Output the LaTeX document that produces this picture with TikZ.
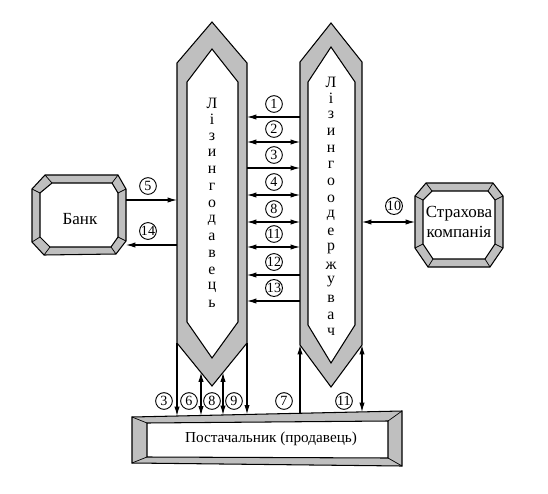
\documentclass[tikz,border=0pt]{standalone}
\usepackage{fontspec}
\setmainfont{Liberation Serif}
\usetikzlibrary{arrows.meta}

\tikzset{
  frame/.style={draw=black, fill=gray!50, even odd rule, line width=0.9pt},
  bevel/.style={black, line width=0.6pt},
  con/.style={line width=0.9pt},
  lar/.style={con, {Latex[length=8pt,width=4.5pt]}-},
  rar/.style={con, -{Latex[length=8pt,width=4.5pt]}},
  bar/.style={con, {Latex[length=8pt,width=4.5pt]}-{Latex[length=8pt,width=4.5pt]}},
  num/.style={circle, draw, fill=white, line width=0.8pt, inner sep=0pt,
    minimum size=0.5cm, font=\fontsize{12}{12}\selectfont},
  lett/.style={inner sep=0pt, font=\fontsize{13.5}{14}\selectfont},
  txt/.style={align=center, font=\fontsize{14.5}{17}\selectfont},
}

\begin{document}
\begin{tikzpicture}[x=0.03cm, y=-0.03cm]
  \useasboundingbox (0,0) rectangle (548,494);

  %% left column (lessor)
  \path[frame] (212,22) -- (247,63) -- (247,343) -- (212,386) -- (177,343) -- (177,63) -- cycle
               (212,49) -- (238,82) -- (238,322) -- (212,358) -- (187,322) -- (187,82) -- cycle;
  \foreach \l [count=\i] in {Л,і,з,и,н,г,о,д,а,в,е,ц,ь}
    \node[lett] (ld\i) at (212,{103+(\i-1)*16.75}) {\l};

  %% right column (lessee)
  \path[frame] (331,23) -- (362,62) -- (362,345) -- (331,387) -- (300,345) -- (300,62) -- cycle
               (331,47) -- (355,82) -- (355,325) -- (331,363) -- (308,325) -- (308,82) -- cycle;
  \foreach \l [count=\i] in {Л,і,з,и,н,г,о,о,д,е,р,ж,у,в,а,ч}
    \node[lett] (lo\i) at (331,{82+(\i-1)*16.67}) {\l};

  %% bank
  \path[frame] (45,175) -- (118,175) -- (126,189) -- (126,241) -- (116,254) -- (44,255) -- (32,242) -- (32,189) -- cycle
               (52,183) -- (112,183) -- (118,193) -- (118,237) -- (111,247) -- (50,247) -- (40,237) -- (40,193) -- cycle;
  \foreach \ax/\ay/\bx/\by in {45/175/52/183, 118/175/112/183, 126/189/118/193, 126/241/118/237,
                               116/254/111/247, 44/255/50/247, 32/242/40/237, 32/189/40/193}
    \draw[bevel] (\ax,\ay) -- (\bx,\by);
  \node[txt] (bank) at (80,219) {Банк};

  %% insurance company
  \path[frame] (426,183) -- (493,183) -- (503,196) -- (503,248) -- (490,267) -- (428,267) -- (415,248) -- (415,196) -- cycle
               (432,191) -- (488,191) -- (495,200) -- (495,244) -- (485,259) -- (433,259) -- (423,244) -- (423,200) -- cycle;
  \foreach \ax/\ay/\bx/\by in {426/183/432/191, 493/183/488/191, 503/196/495/200, 503/248/495/244,
                               490/267/485/259, 428/267/433/259, 415/248/423/244, 415/196/423/200}
    \draw[bevel] (\ax,\ay) -- (\bx,\by);
  \node[txt] (ins) at (459,222) {Страхова\\компанія};

  %% supplier
  \path[frame] (132,417) -- (402,411) -- (402,466) -- (132,463) -- cycle
               (147,423) -- (388,421) -- (388,458) -- (147,457) -- cycle;
  \foreach \ax/\ay/\bx/\by in {132/417/147/423, 402/411/388/421, 402/466/388/458, 132/463/147/457}
    \draw[bevel] (\ax,\ay) -- (\bx,\by);
  \node[txt, font=\fontsize{13}{15}\selectfont] (sup) at (271,439) {Постачальник (продавець)};

  %% lessor <-> lessee
  \foreach \n/\y/\s in {1/117/lar, 2/142/bar, 3/168/rar, 4/195/bar,
                        8/222/bar, 11/247/bar, 12/275/lar, 13/301/lar} {
    \coordinate (ml\n) at (247,\y);
    \coordinate (mr\n) at (300,\y);
    \draw[\s] (ml\n) -- (mr\n);
    \node[num] (m\n) at (274,\y-13) {\n};
  }

  %% bank <-> lessor
  \coordinate (k5) at (126,200);  \coordinate (d5) at (177,200);
  \coordinate (k14) at (126,245); \coordinate (d14) at (177,245);
  \draw[rar] (k5) -- (d5);
  \draw[lar] (k14) -- (d14);
  \node[num] (n5) at (148,186) {5};
  \node[num] (n14) at (148,231) {14};

  %% lessee <-> insurance
  \coordinate (o10) at (362,222); \coordinate (s10) at (415,222);
  \draw[bar] (o10) -- (s10);
  \node[num] (n10) at (394,206) {10};

  %% columns <-> supplier
  \foreach \n/\x/\ya/\yb/\s in {3/177/343/416/rar, 6/201/372.5/415.5/bar, 8/223/372.5/415/bar,
                                9/247/343/414.4/rar, 7/300/345/413.3/lar, 11/362/345/412/bar} {
    \coordinate (p\n) at (\x,\ya);
    \coordinate (q\n) at (\x,\yb);
    \draw[\s] (p\n) -- (q\n);
  }
  \foreach \n/\x in {3/164, 6/189, 8/212, 9/234, 7/284, 11/344}
    \node[num] (b\n) at (\x,401) {\n};

\end{tikzpicture}
\end{document}
